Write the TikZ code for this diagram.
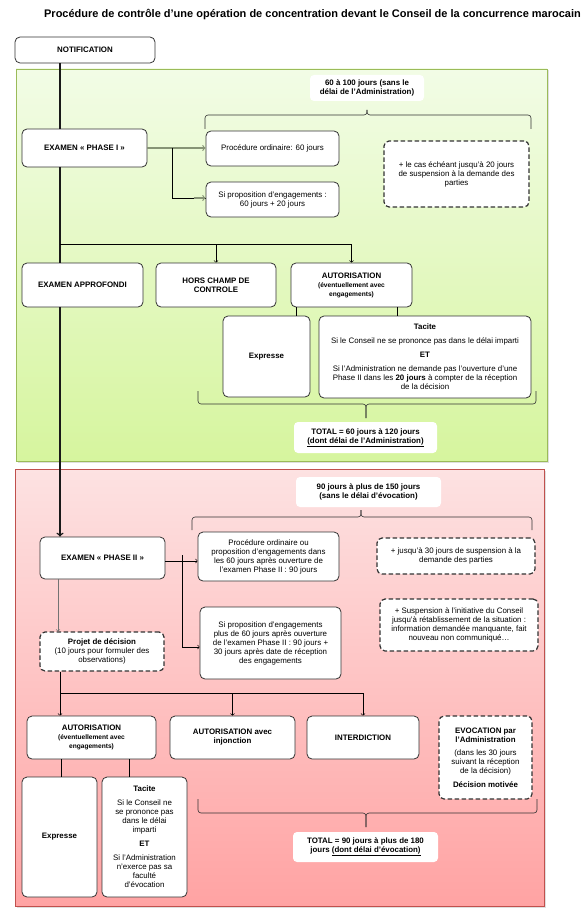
\documentclass[tikz,border=0pt]{standalone}
\usepackage{fontspec}
\setmainfont{Liberation Sans}
\usepackage{xcolor}
\usepackage{tikz}
\definecolor{boxline}{RGB}{51, 51, 51}
\definecolor{greentop}{RGB}{242, 252, 230}
\definecolor{greenbottom}{RGB}{214, 245, 158}
\definecolor{greenline}{RGB}{155, 187, 89}
\definecolor{redtop}{RGB}{253, 226, 226}
\definecolor{redbottom}{RGB}{255, 163, 163}
\definecolor{redline}{RGB}{192, 80, 77}
\definecolor{linkgreen}{RGB}{135, 148, 118}
\usetikzlibrary{shapes, arrows, positioning, shadows, calc}

\newcommand{\boxfont}{\fontsize{7.9}{9}\selectfont}
\newcommand{\smallfont}{\fontsize{6.6}{8.4}\selectfont}

\begin{document}
\begin{tikzpicture}[
    x=1pt, y=-1pt,
    box/.style={rectangle, rounded corners=5pt, draw=boxline, line width=0.8pt, fill=white, align=center, font=\boxfont, inner sep=2pt},
    dbox/.style={box, line width=1.2pt, dash pattern=on 4.5pt off 2.5pt},
    lbl/.style={rectangle, rounded corners=4pt, fill=white, align=center, font=\boxfont\bfseries, inner sep=2pt},
    panel/.style={rectangle, line width=0.8pt, drop shadow={shadow xshift=1.5pt, shadow yshift=-1.5pt, opacity=0.25}},
    brk/.style={draw=boxline, line width=0.6pt, rounded corners=3pt},
    link/.style={draw=black, line width=0.6pt},
    spinelink/.style={draw=black!90, line width=1.5pt}
]
    \useasboundingbox (0,0) rectangle (588,912);

    % Title
    \node[font=\fontsize{11}{13}\selectfont\bfseries] (title) at (312.5,15) {Procédure de contrôle d’une opération de concentration devant le Conseil de la concurrence marocain};

    % Panels
    \node[panel, draw=greenline, top color=greentop, bottom color=greenbottom, minimum width=531, minimum height=392] (phase1) at (281.5,265) {};
    \node[panel, draw=redline, top color=redtop, bottom color=redbottom, minimum width=529, minimum height=437] (phase2) at (279.5,687.5) {};

    \node[box, font=\boxfont\bfseries, minimum width=140, minimum height=26] (notif) at (85,50) {NOTIFICATION};

    % Phase I
    \node[lbl, minimum width=114, minimum height=26] (span1) at (367,88) {60 à 100 jours (sans le\\délai de l’Administration)};
    \draw[brk] (205,129) |- (367,115) -- (367,110);
    \draw[brk] (367,110) -- (367,115) -| (531,129);

    \node[box, font=\boxfont\bfseries, minimum width=125, minimum height=38] (ph1) at (84.5,148) {EXAMEN « PHASE I »};
    \node[box, minimum width=133, minimum height=35] (ord1) at (272.5,148.5) {Procédure ordinaire: 60 jours};
    \node[box, minimum width=133, minimum height=35] (eng1) at (272.5,199.5) {Si proposition d’engagements :\\60 jours + 20 jours};
    \node[dbox, minimum width=145, minimum height=66] (susp1) at (456.5,174) {+ le cas échéant jusqu’à 20 jours\\de suspension à la demande des\\parties};

    \node[box, font=\boxfont\bfseries, minimum width=121, minimum height=44] (appr) at (82.5,285) {EXAMEN APPROFONDI};
    \node[box, font=\boxfont\bfseries, minimum width=120, minimum height=44] (hors) at (216,285) {HORS CHAMP DE\\CONTROLE};
    \node[box, font=\boxfont\bfseries, minimum width=121, minimum height=44] (aut1) at (351.5,285) {AUTORISATION\\\smallfont(éventuellement avec\\\smallfont engagements)};

    \node[box, font=\boxfont\bfseries, minimum width=87, minimum height=81] (expr1) at (266.5,356.5) {Expresse};
    \node[box, minimum width=212, minimum height=82] (tac1) at (425,357) {\textbf{Tacite}\\[5pt]Si le Conseil ne se prononce pas dans le délai imparti\\[5pt]\textbf{ET}\\[5pt]Si l’Administration ne demande pas l’ouverture d’une\\Phase II dans les \textbf{20 jours} à compter de la réception\\de la décision};

    \draw[brk] (198,391) |- (366,404) -- (366,418);
    \draw[brk] (366,418) -- (366,404) -| (536,391);
    \node[lbl, minimum width=143, minimum height=31] (tot1) at (365.5,437.5) {TOTAL = 60 jours à 120 jours\\\underline{(dont délai de l’Administration)}};

    % Phase II
    \node[lbl, minimum width=145, minimum height=30] (span2) at (368.5,492) {90 jours à plus de 150 jours\\(sans le délai d’évocation)};
    \draw[brk] (192,530) |- (361,517) -- (361,510);
    \draw[brk] (361,510) -- (361,517) -| (532,530);

    \node[box, font=\boxfont\bfseries, minimum width=125, minimum height=42] (ph2) at (102.5,558) {EXAMEN « PHASE II »};
    \node[box, minimum width=141, minimum height=49] (ord2) at (268.5,556.5) {Procédure ordinaire ou\\proposition d’engagements dans\\les 60 jours après ouverture de\\l’examen Phase II : 90 jours};
    \node[dbox, minimum width=158, minimum height=36] (susp2) at (456,556) {+ jusqu’à 30 jours de suspension à la\\demande des parties};
    \node[box, minimum width=141, minimum height=72] (eng2) at (270.5,643) {Si proposition d’engagements\\plus de 60 jours après ouverture\\de l’examen Phase II : 90 jours +\\30 jours après date de réception\\des engagements};
    \node[dbox, minimum width=158, minimum height=52] (susp3) at (459,625) {+ Suspension à l’initiative du Conseil\\jusqu’à rétablissement de la situation :\\information demandée manquante, fait\\nouveau non communiqué…};
    \node[dbox, minimum width=124, minimum height=39] (proj) at (102,651.5) {\textbf{Projet de décision}\\(10 jours pour formuler des\\observations)};

    \node[box, font=\boxfont\bfseries, minimum width=129, minimum height=43] (aut2) at (91.5,737.5) {AUTORISATION\\\smallfont(éventuellement avec\\\smallfont engagements)};
    \node[box, font=\boxfont\bfseries, minimum width=125, minimum height=43] (inj) at (232.5,737.5) {AUTORISATION avec\\injonction};
    \node[box, font=\boxfont\bfseries, minimum width=112, minimum height=43] (interd) at (363,737.5) {INTERDICTION};
    \node[dbox, minimum width=93, minimum height=83] (evoc) at (485.5,757.5) {\textbf{EVOCATION par}\\\textbf{l’Administration}\\[4pt](dans les 30 jours\\suivant la réception\\de la décision)\\[5pt]\textbf{Décision motivée}};

    \node[box, font=\boxfont\bfseries, minimum width=75, minimum height=120] (expr2) at (59.5,837) {Expresse};
    \node[box, minimum width=85, minimum height=120] (tac2) at (144.5,837) {\textbf{Tacite}\\[5pt]Si le Conseil ne\\se prononce pas\\dans le délai\\imparti\\[5pt]\textbf{ET}\\[5pt]Si l’Administration\\n’exerce pas sa\\faculté\\d’évocation};

    \draw[brk] (198,799) |- (366,813) -- (366,827);
    \draw[brk] (366,827) -- (366,813) -| (537,799);
    \node[lbl, minimum width=145, minimum height=30] (tot2) at (365.5,847) {TOTAL = 90 jours à plus de 180\\jours \underline{(dont délai d’évocation)}};

    % Connectors
    \coordinate (spine) at (60,0);
    \draw[spinelink] (spine |- notif.south) -- (spine |- ph1.north);
    \draw[spinelink] (spine |- ph1.south) -- (spine |- appr.north);
    \draw[spinelink, ->] (spine |- appr.south) -- (spine |- ph2.north);

    \draw[linkgreen, line width=1.2pt, ->] (ph1.east) -- (ph1.east -| ord1.west);
    \coordinate (b1) at (172,148);
    \draw[link] (b1) |- ([yshift=1.5pt]eng1.west);
    \draw[linkgreen, line width=1.2pt, ->] ([xshift=-12pt,yshift=1.5pt]eng1.west) -- ([yshift=1.5pt]eng1.west);

    \coordinate (j1) at (60,244);
    \draw[link] (j1) -- (j1 -| aut1.north);
    \draw[link, ->] (j1 -| hors.north) -- (hors.north);
    \draw[link, ->] (j1 -| aut1.north) -- (aut1.north);

    \coordinate (a1l) at (296,0);
    \coordinate (a1r) at (397,0);
    \draw[link] (a1l |- aut1.south) -- (a1l |- expr1.north);
    \draw[link] (a1r |- aut1.south) -- (a1r |- tac1.north);

    \draw[link, ->] ([yshift=-3pt]ph2.east) -- ([yshift=-3pt]ph2.east -| ord2.west);
    \coordinate (b2) at (182,555);
    \draw[link, ->] (b2) |- ([yshift=-4pt]eng2.west);

    \coordinate (s2) at (58,0);
    \draw[draw=black!55, line width=0.6pt, ->] (s2 |- ph2.south) -- (s2 |- proj.north);

    \coordinate (j2) at (60,693);
    \draw[link] (spine |- proj.south) -- (j2) -- (j2 -| interd.north);
    \draw[link, ->] (j2) -- (spine |- aut2.north);
    \draw[link, ->] (j2 -| inj.north) -- (inj.north);
    \draw[link, ->] (j2 -| interd.north) -- (interd.north);

    \coordinate (a2l) at (61,0);
    \coordinate (a2r) at (129,0);
    \draw[link] (a2l |- aut2.south) -- (a2l |- expr2.north);
    \draw[link] (a2r |- aut2.south) -- (a2r |- tac2.north);
\end{tikzpicture}
\end{document}
